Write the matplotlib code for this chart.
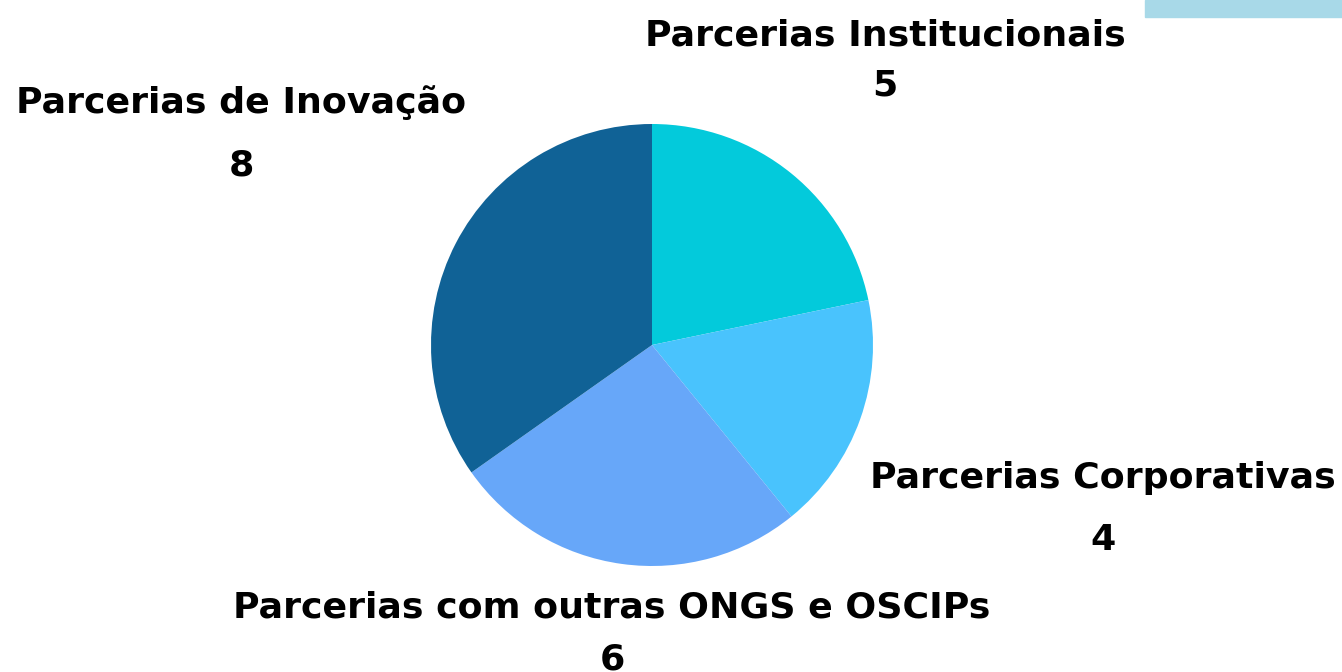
import matplotlib.pyplot as plt
from matplotlib.patches import Rectangle

# Data
categories = [
    "Parcerias Institucionais",
    "Parcerias Corporativas",
    "Parcerias com outras ONGS e OSCIPs",
    "Parcerias de Inovação",
]
values = [5, 4, 6, 8]
colors = ["#03CADB", "#49C3FD", "#67A7F9", "#106296"]

W, H = 1342, 672
fig = plt.figure(figsize=(W / 100, H / 100), dpi=100)
fig.patch.set_facecolor("white")

# Pie axes: centre (652, 345) px, radius 221 px
cx, cy, r = 652, 345, 221
ax = fig.add_axes([(cx - r) / W, (H - cy - r) / H, 2 * r / W, 2 * r / H])
ax.pie(values, colors=colors, startangle=90, counterclock=False,
       radius=1.0, wedgeprops=dict(linewidth=0))
ax.set_xlim(-1, 1)
ax.set_ylim(-1, 1)
ax.set_aspect("equal")
ax.axis("off")

# Light strip in the top right corner
fig.patches.append(Rectangle((1145 / W, 1 - 17 / H), 197 / W, 17 / H,
                             transform=fig.transFigure, color="#A8D9E8",
                             zorder=0))

# Label positions (px, centre of name line, centre of value line)
label_pos = [
    (885, 35, 85),
    (1103, 478, 540),
    (612, 608, 660),
    (241, 103, 165),
]

font = dict(family="DejaVu Sans", weight="bold", color="black", fontsize=26.2)
for name, val, (x, y1, y2) in zip(categories, values, label_pos):
    fig.text(x / W, 1 - y1 / H, name, ha="center", va="center", **font)
    fig.text(x / W, 1 - y2 / H, str(val), ha="center", va="center", **font)

fig.savefig("out.png", dpi=100)
